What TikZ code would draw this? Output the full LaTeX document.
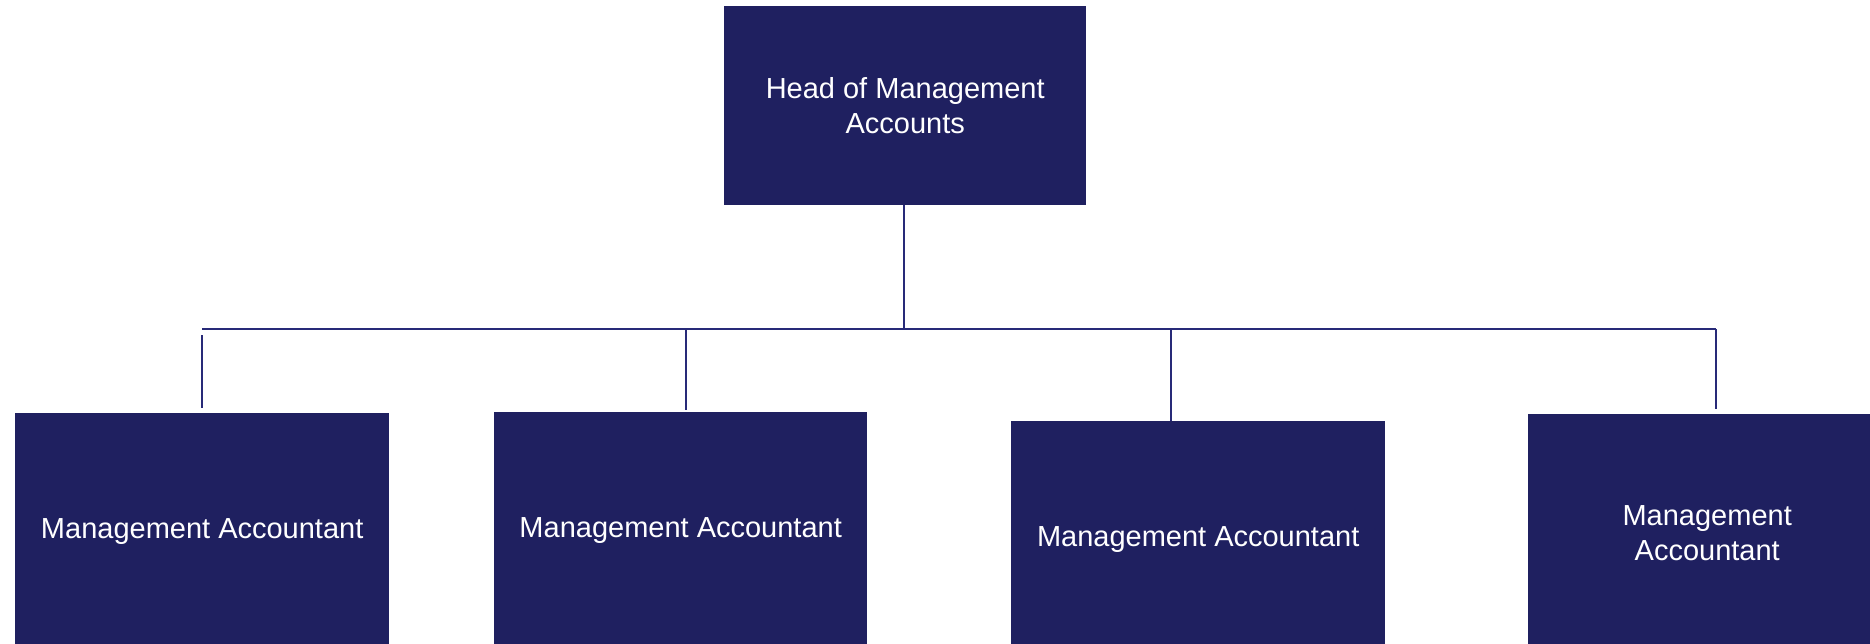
\documentclass[tikz,border=0pt]{standalone}
\usepackage{fontspec}
\setmainfont{Liberation Sans}
\definecolor{navy}{RGB}{31,32,96}
\definecolor{linenavy}{RGB}{40,42,120}
\begin{document}
\begin{tikzpicture}[x=1pt,y=-1pt,
  box/.style={draw=none,fill=navy,text=white,anchor=north west,inner sep=0pt,
    align=center,font=\fontsize{29}{35}\selectfont},
  conn/.style={draw=linenavy,line width=1.3pt}]
\useasboundingbox (0,0) rectangle (1870,643);
\clip (0,0) rectangle (1870,643);
\node[box,minimum width=362pt,minimum height=199pt] (top) at (724,6) {Head of Management\\Accounts};
\node[box,minimum width=374pt,minimum height=237pt] (b1) at (15,413) {Management Accountant};
\node[box,minimum width=373pt,minimum height=237pt] (b2) at (494,412) {Management Accountant};
\node[box,minimum width=374pt,minimum height=237pt] (b3) at (1011,421) {Management Accountant};
\node[box,minimum width=358pt,minimum height=237pt] (b4) at (1528,414) {Management\\Accountant};
\coordinate (L) at (202,329);
\coordinate (R) at (1716,329);
\coordinate (h) at (904,329);
\coordinate (v1a) at (202,335);
\coordinate (v1b) at (202,408);
\coordinate (v2a) at (686,329);
\coordinate (v2b) at (686,410);
\coordinate (v3a) at (1171,329);
\coordinate (v4b) at (1716,409);
\draw[conn] (top.south -| h) -- (h);
\draw[conn] (L) -- (R);
\draw[conn] (v1a) -- (v1b);
\draw[conn] (v2a) -- (v2b);
\draw[conn] (v3a) -- (v3a |- b3.north);
\draw[conn] (R) -- (v4b);
\end{tikzpicture}
\end{document}
